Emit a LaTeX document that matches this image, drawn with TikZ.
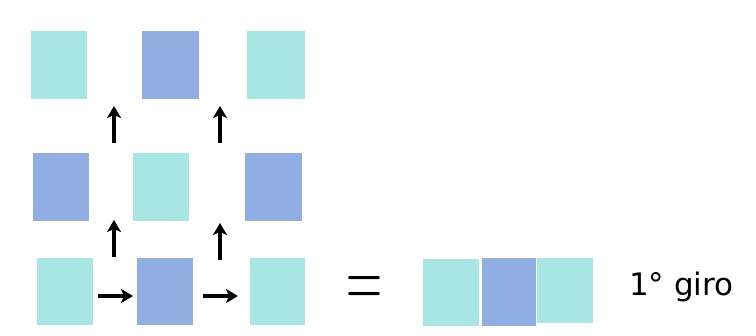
\documentclass[tikz,border=0pt]{standalone}
\usepackage{fontspec}
\newfontfamily\labelfont{DejaVu Sans}
\usetikzlibrary{arrows.meta}
\definecolor{tealbox}{HTML}{A8E6E3}
\definecolor{bluebox}{HTML}{90AEE2}
\tikzset{
  sq/.style={draw=none, inner sep=0pt, minimum width=56pt, minimum height=68pt},
  lightsq/.style={sq, fill=tealbox},
  darksq/.style={sq, fill=bluebox},
  arrowline/.style={draw=black, line width=3.4pt, -{Stealth[length=12pt,width=14pt,inset=3pt]}}
}
\begin{document}
\begin{tikzpicture}[x=1pt,y=-1pt]
\useasboundingbox (0,0) rectangle (756,336);
% top row
\node[lightsq] (a1) at (59,65) {};
\node[darksq, minimum width=57pt] (a2) at (170.5,65) {};
\node[lightsq, minimum width=58pt] (a3) at (276,65) {};
% middle row
\node[darksq] (b1) at (61,187) {};
\node[lightsq] (b2) at (161,187) {};
\node[darksq, minimum width=57pt] (b3) at (273.5,187) {};
% bottom row
\node[lightsq, minimum height=67pt] (c1) at (65,291.5) {};
\node[darksq, minimum height=67pt] (c2) at (165,291.5) {};
\node[lightsq, minimum width=55pt, minimum height=67pt] (c3) at (277.5,291.5) {};
% arrow coordinates
\coordinate (u1s) at (114,143);
\coordinate (u1e) at (114,106);
\coordinate (u2s) at (220,143);
\coordinate (u2e) at (220,106);
\coordinate (u3s) at (114,257);
\coordinate (u3e) at (114,220);
\coordinate (u4s) at (220,260);
\coordinate (u4e) at (220,223);
\coordinate (r1s) at (98,296);
\coordinate (r1e) at (133,296);
\coordinate (r2s) at (203,296);
\coordinate (r2e) at (238,296);
\path[arrowline] (u1s) -- (u1e);
\path[arrowline] (u2s) -- (u2e);
\path[arrowline] (u3s) -- (u3e);
\path[arrowline] (u4s) -- (u4e);
\path[arrowline] (r1s) -- (r1e);
\path[arrowline] (r2s) -- (r2e);
% equals
\node[font=\fontsize{50}{50}\selectfont, yscale=1.8, transform shape, inner sep=0pt] (eq) at (364,292) {=};
% strip
\node[lightsq, minimum height=67pt] (d1) at (451,292.5) {};
\node[darksq, minimum width=54pt] (d2) at (509,292) {};
\node[lightsq, minimum height=65pt] (d3) at (565,291) {};
% label
\node[font=\labelfont\fontsize{31}{31}\selectfont, anchor=west, inner sep=0pt] (lbl) at (629,287) {1° giro};
\end{tikzpicture}
\end{document}
